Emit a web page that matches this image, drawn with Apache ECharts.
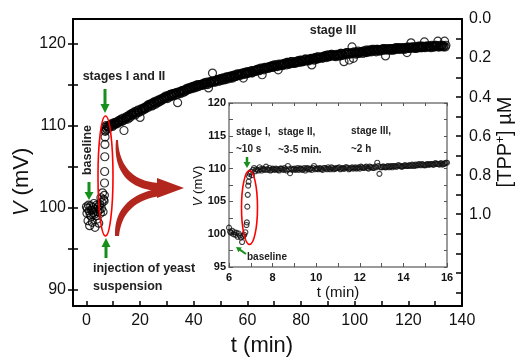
<!DOCTYPE html>
<html><head><meta charset="utf-8">
<script src="https://cdn.jsdelivr.net/npm/echarts@6/dist/echarts.min.js"></script>
<style>html,body{margin:0;padding:0;background:#fff}#c{width:521px;height:363px}</style>
</head><body><div id="c"></div>
<script>
// ---------- DATA ----------
// main panel: baseline before injection (t in min, V in mV)
const mainBaseT = [0.0,0.2,0.4,0.6,0.8,1.0,1.2,1.4,1.6,1.8,2.0,2.2,2.4,2.6,2.8,3.0,3.2,3.4,3.6,3.8,4.0,4.2,4.4,4.6,4.8,5.0,5.2,5.4,5.6,5.8,6.0,6.2,6.4];
const mainBaseV = [100.1,99.3,99.9,98.4,100.3,99.6,97.8,99.1,100.2,98.9,99.7,98.2,100.0,99.4,100.5,99.2,97.6,99.8,99.0,100.3,98.6,99.5,100.1,98.1,99.7,100.4,99.3,101.2,99.9,100.6,101.8,99.5,101.0];
// main panel: jump after injection
const mainJumpT = [6.6,6.7,6.75,6.8,6.85,6.9,6.95,7.0,7.1,7.2,7.3];
const mainJumpV = [100.8,101.5,103.0,104.4,106.2,107.7,108.6,109.3,109.8,109.4,110.0];
// main panel: slow rise, two interleaved runs sampled every 0.5 min (from 7.5 and 7.75 min)
const mainBandT0 = 7.5, mainBandT0b = 7.75, mainBandDt = 0.5;
const mainBandV = [
109.6,109.9,109.8,110.1,110.0,110.3,110.2,110.4,110.3,110.6,
110.5,110.8,110.6,109.4,110.9,111.1,110.8,111.3,111.2,111.5,
111.4,111.7,111.5,111.8,111.6,111.0,112.0,111.9,112.2,112.1,
112.4,112.2,112.5,112.6,112.4,112.8,112.7,113.0,112.8,113.1,
113.0,113.3,113.2,113.4,113.6,113.4,113.7,113.5,113.8,113.6,
113.9,113.7,114.0,112.8,114.1,113.9,114.2,114.3,114.1,114.4,
114.3,114.6,114.5,114.7,114.6,114.8,114.7,114.9,115.0,114.8,
115.0,114.9,115.1,115.2,115.0,115.3,114.6,115.2,115.4,116.4,
115.4,115.3,115.5,115.6,115.4,115.7,115.5,115.8,115.6,115.9,
115.8,115.7,115.9,116.0,115.8,116.1,116.0,116.2,116.1,116.3,
116.2,116.4,115.8,116.5,116.3,116.6,116.4,116.5,116.7,116.5,
116.7,116.6,116.8,116.9,116.7,117.0,116.2,116.9,117.1,117.0,
117.1,117.0,117.2,117.3,117.1,117.4,117.2,117.3,116.8,117.4,
117.4,117.3,117.5,117.6,117.4,117.7,117.5,117.6,117.8,117.6,
117.7,117.6,117.8,117.9,117.7,117.95,117.8,117.9,118.1,117.9,
118.0,117.9,118.1,117.4,118.2,118.0,118.3,118.1,118.2,118.3,
118.3,118.2,118.4,118.5,118.3,118.6,118.4,118.5,118.7,118.5,
118.6,118.4,118.6,118.7,118.5,118.8,118.6,117.8,118.7,118.9,
118.7,118.0,118.8,119.6,118.2,118.9,118.7,119.0,118.8,118.9,
119.0,118.8,119.1,119.0,118.9,119.2,119.0,119.1,119.3,119.1,
119.2,119.0,119.3,119.2,119.1,119.3,119.2,119.4,118.5,119.3,
119.3,119.2,119.4,119.3,119.2,119.4,119.3,119.5,119.4,119.3,
119.4,119.3,119.5,119.4,118.9,119.5,119.4,120.1,119.5,119.6,
119.5,119.4,119.6,119.5,119.7,119.5,119.6,120.2,119.6,119.7,
119.6,119.7,119.5,119.7,119.6,119.8,119.7,120.3,119.6,119.7,
119.7,119.6,120.3,119.8];
const mainBandVb = [
109.9,109.7,110.0,110.2,109.9,110.1,110.4,110.2,110.5,110.4,
110.7,110.5,110.9,110.7,110.8,111.0,111.2,111.0,111.4,111.3,
111.6,111.3,111.6,111.9,111.7,112.0,111.8,112.1,112.0,112.3,
112.3,112.6,112.4,112.7,112.5,112.9,112.6,112.9,113.1,112.9,
113.2,113.1,113.4,113.3,113.5,113.3,113.6,113.8,113.6,113.9,
113.8,114.0,113.8,114.1,114.0,114.2,114.0,114.3,114.2,114.5,
114.5,114.4,114.6,114.5,114.8,114.6,114.9,114.7,114.8,115.0,
114.9,115.1,115.0,115.2,115.1,115.0,115.3,115.2,115.4,115.3,
115.5,115.4,115.6,115.5,115.7,115.6,115.8,115.7,115.6,115.9,
115.9,116.0,115.8,116.1,115.9,116.2,116.0,116.3,116.2,116.1,
116.3,116.2,116.4,116.3,116.5,116.4,116.6,116.5,116.4,116.7,
116.6,116.8,116.7,116.9,116.8,116.9,117.0,116.8,117.0,117.1,
117.0,117.2,117.1,117.3,117.2,117.3,117.4,117.2,117.5,117.3,
117.5,117.4,117.6,117.5,117.7,117.6,117.5,117.8,117.7,117.6,
117.8,117.7,117.9,117.8,118.0,117.9,117.8,118.0,118.1,117.9,
118.1,118.0,118.2,118.1,118.0,118.3,118.2,118.4,118.2,118.3,
118.4,118.3,118.5,118.4,118.6,118.4,118.5,118.7,118.6,118.5,
118.5,118.7,118.6,118.5,118.8,118.7,118.6,118.8,118.7,118.9,
118.8,118.7,118.9,118.8,119.0,118.9,118.8,119.1,118.9,119.0,
119.0,119.1,118.9,119.2,119.0,119.1,119.2,119.0,119.2,119.3,
119.1,119.3,119.2,119.1,119.3,119.2,119.4,119.3,119.2,119.4,
119.3,119.4,119.2,119.4,119.3,119.5,119.4,119.3,119.5,119.4,
119.5,119.4,119.3,119.5,119.6,119.4,119.5,119.6,119.5,119.4,
119.6,119.5,119.7,119.6,119.5,119.7,119.6,119.5,119.7,119.6,
119.7,119.6,119.8,119.7,119.6,119.8,119.7,119.6,119.8,119.7,
119.8,119.7,119.6];
// inset: baseline + jump
const insetBaseT = [6.0,6.05,6.1,6.15,6.2,6.25,6.3,6.35,6.4,6.45,6.5,6.55,6.6,6.65,6.7,6.75,6.8,6.82,6.84,6.86,6.88,6.9,6.92,6.95,7.0,7.05,7.1,7.15];
const insetBaseV = [101.0,100.4,100.2,100.5,100.0,100.3,99.9,100.2,99.6,100.1,99.8,99.5,98.8,99.7,99.9,100.3,101.4,101.8,104.2,106.0,107.4,108.0,108.8,109.2,109.5,109.0,109.8,110.1];
// inset: plateau (two interleaved runs, each sampled every 0.1 min)
const insetBandT0 = 7.2, insetBandT0b = 7.25, insetBandDt = 0.1;
const insetBandV = [
109.6,109.8,110.2,109.7,109.9,110.3,109.8,109.7,110.0,109.8,
109.9,109.7,110.0,109.8,109.9,110.4,109.3,109.8,110.0,109.9,
109.8,110.0,109.9,109.7,110.1,109.9,109.8,110.4,110.0,109.9,
110.0,109.8,110.1,109.9,110.0,110.2,109.9,110.0,110.1,109.9,
110.1,110.0,110.2,109.9,110.1,110.0,110.2,110.1,110.0,110.2,
110.1,110.3,110.0,110.2,110.1,110.3,110.9,109.2,110.2,110.3,
110.2,110.4,110.3,110.2,110.4,110.3,110.5,110.3,110.4,110.5,
110.4,110.5,110.6,110.4,110.5,110.7,110.5,110.6,110.5,110.7,
110.6,110.7,110.6,110.8,110.7,110.8,110.6,110.8,110.9];
const insetBandVb = [
109.9,109.7,109.9,110.0,109.8,109.9,110.1,109.8,109.9,110.0,
109.8,110.0,109.9,110.1,109.7,109.9,110.0,109.9,109.8,110.1,
110.0,109.8,110.1,110.0,109.9,110.0,110.1,109.9,110.0,110.1,
109.9,110.1,110.0,110.2,109.9,110.1,110.0,110.1,110.2,110.0,
110.0,110.2,110.1,110.0,110.2,110.1,110.0,110.2,110.3,110.1,
110.2,110.1,110.3,110.2,110.1,110.2,110.4,110.2,110.3,110.2,
110.3,110.2,110.4,110.4,110.3,110.5,110.4,110.3,110.5,110.4,
110.5,110.4,110.5,110.6,110.5,110.6,110.7,110.5,110.6,110.6,
110.7,110.6,110.8,110.7,110.6,110.8,110.7,110.9];
// tick values / labels
const mainXTicks = [0,10,20,30,40,50,60,70,80,90,100,110,120,130,140];
const mainXLabels = [0,20,40,60,80,100,120,140];
const mainYTicks = [90,95,100,105,110,115,120];
const mainYLabels = [90,100,110,120];
const tppTicks = [0,0.1,0.2,0.3,0.4,0.5,0.6,0.7,0.8,0.9,1.0,1.1,1.2,1.3,1.4];
const tppLabels = [0,0.2,0.4,0.6,0.8,1.0];
const insetXTicks = [6,7,8,9,10,11,12,13,14,15,16];
const insetXLabels = [6,8,10,12,14,16];
const insetYTicks = [95,97.5,100,102.5,105,107.5,110,112.5,115,117.5,120];
const insetYLabels = [95,100,105,110,115,120];

// ---------- BUILD ----------
const pairs = (ts, vs) => vs.map((v, i) => [ts[i], v]);
const sampled = (t0, dt, vs) => vs.map((v, i) => [+(t0 + i * dt).toFixed(3), v]);
const mainData = pairs(mainBaseT, mainBaseV).concat(pairs(mainJumpT, mainJumpV),
  sampled(mainBandT0, mainBandDt, mainBandV), sampled(mainBandT0b, mainBandDt, mainBandVb));
const insetData = pairs(insetBaseT, insetBaseV).concat(sampled(insetBandT0, insetBandDt, insetBandV), sampled(insetBandT0b, insetBandDt, insetBandVb));

const FF = 'Liberation Sans, Arial, sans-serif';
const green = '#17901b';
const darkRed = '#b3261e';

function arrowPts(x1, y1, x2, y2, sw, hw, hl) {
  const dx = x2 - x1, dy = y2 - y1, L = Math.hypot(dx, dy);
  const ux = dx / L, uy = dy / L, px = -uy, py = ux;
  const bx = x2 - ux * hl, by = y2 - uy * hl;
  return [
    [x1 + px * sw / 2, y1 + py * sw / 2], [bx + px * sw / 2, by + py * sw / 2],
    [bx + px * hw / 2, by + py * hw / 2], [x2, y2],
    [bx - px * hw / 2, by - py * hw / 2], [bx - px * sw / 2, by - py * sw / 2],
    [x1 - px * sw / 2, y1 - py * sw / 2]
  ];
}
function bez(p0, p1, p2, p3, n) {
  const out = [];
  for (let i = 0; i <= n; i++) {
    const t = i / n, a = (1 - t) ** 3, b = 3 * (1 - t) ** 2 * t, c = 3 * (1 - t) * t * t, d = t ** 3;
    out.push([a * p0[0] + b * p1[0] + c * p2[0] + d * p3[0], a * p0[1] + b * p1[1] + c * p2[1] + d * p3[1]]);
  }
  return out;
}
const upperRibbon = bez([118,140],[119,166],[133,182],[160,183],20).concat(bez([160,191],[127,190],[113,170],[116,140],20));
const lowerRibbon = bez([115,236],[114,211],[128,194],[160,188],20).concat(bez([160,196],[133,200],[121,215],[119,236],20));

function txt(x, y, text, size, opts) {
  opts = opts || {};
  return {
    type: 'text', x: x, y: y, rotation: opts.rot || 0, z: 100,
    style: Object.assign({
      text: text, fill: opts.color || '#222',
      font: (opts.bold ? 'bold ' : '') + size + 'px ' + FF,
      textAlign: opts.align || 'center', textVerticalAlign: 'middle'
    }, opts.rich ? { rich: opts.rich } : {})
  };
}

const axisBlack = { onZero: false, lineStyle: { color: '#000', width: 2 } };
const insetLine = { onZero: false, lineStyle: { color: '#7a7a7a', width: 1.5 } };
const lblMain = { color: '#111', fontSize: 16, fontFamily: FF };
const lblInset = { color: '#111', fontSize: 11, fontWeight: 'bold', fontFamily: FF };

const option = {
  animation: false,
  backgroundColor: '#fff',
  grid: [
    { left: 73, top: 19, right: 59, bottom: 57 },
    { left: 229, top: 103, right: 74, bottom: 96, show: true, backgroundColor: '#fff', borderWidth: 0 }
  ],
  xAxis: [
    { gridIndex: 0, type: 'value', min: -5, max: 140, position: 'bottom',
      axisLine: axisBlack, splitLine: { show: false },
      axisTick: { inside: true, length: 5, customValues: mainXTicks, lineStyle: { color: '#000', width: 1.5 } },
      axisLabel: Object.assign({ margin: 7, customValues: mainXLabels }, lblMain) },
    { gridIndex: 0, type: 'value', min: -5, max: 140, position: 'top',
      axisLine: axisBlack, splitLine: { show: false }, axisTick: { show: false }, axisLabel: { show: false } },
    { gridIndex: 1, type: 'value', min: 6, max: 16, position: 'bottom',
      axisLine: insetLine, splitLine: { show: false },
      axisTick: { inside: true, length: 4, customValues: insetXTicks, lineStyle: { color: '#555', width: 1 } },
      axisLabel: Object.assign({ margin: 5, customValues: insetXLabels }, lblInset) },
    { gridIndex: 1, type: 'value', min: 6, max: 16, position: 'top',
      axisLine: insetLine, splitLine: { show: false },
      axisTick: { inside: true, length: 3, customValues: insetXTicks, lineStyle: { color: '#555', width: 1 } },
      axisLabel: { show: false } }
  ],
  yAxis: [
    { gridIndex: 0, type: 'value', min: 88, max: 123, position: 'left',
      axisLine: axisBlack, splitLine: { show: false },
      axisTick: { inside: false, length: 5, customValues: mainYTicks, lineStyle: { color: '#000', width: 1.5 } },
      axisLabel: Object.assign({ margin: 7, customValues: mainYLabels }, lblMain) },
    { gridIndex: 0, type: 'value', min: 88, max: 123, position: 'left',
      axisLine: { show: false, onZero: false }, splitLine: { show: false },
      axisTick: { inside: true, length: 5, customValues: mainYTicks, lineStyle: { color: '#000', width: 1.5 } },
      axisLabel: { show: false } },
    { gridIndex: 0, type: 'value', min: 0, max: 1.47, inverse: true, position: 'right',
      axisLine: axisBlack, splitLine: { show: false },
      axisTick: { inside: true, length: 6, customValues: tppTicks, lineStyle: { color: '#000', width: 1.5 } },
      axisLabel: Object.assign({ margin: 7, customValues: tppLabels, formatter: v => v.toFixed(1) }, lblMain) },
    { gridIndex: 1, type: 'value', min: 95, max: 120, position: 'left',
      axisLine: insetLine, splitLine: { show: false },
      axisTick: { inside: true, length: 4, customValues: insetYTicks, lineStyle: { color: '#555', width: 1 } },
      axisLabel: Object.assign({ margin: 3, customValues: insetYLabels }, lblInset) },
    { gridIndex: 1, type: 'value', min: 95, max: 120, position: 'right',
      axisLine: insetLine, splitLine: { show: false },
      axisTick: { inside: true, length: 3, customValues: insetYTicks, lineStyle: { color: '#555', width: 1 } },
      axisLabel: { show: false } }
  ],
  series: [
    { type: 'scatter', xAxisIndex: 0, yAxisIndex: 0, data: mainData, symbol: 'circle', symbolSize: 8,
      itemStyle: { color: 'rgba(0,0,0,0)', borderColor: '#000', borderWidth: 1.2 }, silent: true, clip: true },
    { type: 'scatter', xAxisIndex: 2, yAxisIndex: 3, data: insetData, symbol: 'circle', symbolSize: 5,
      itemStyle: { color: 'rgba(0,0,0,0)', borderColor: '#111', borderWidth: 1.1 }, silent: true, clip: true, z: 3 }
  ],
  graphic: [
    // axis titles
    txt(22, 182, '{i|V} (mV)', 22, { rot: Math.PI / 2, color: '#111',
      rich: { i: { fontStyle: 'italic', fontSize: 22, fontFamily: FF, fill: '#111' } } }),
    txt(262, 346, 't (min)', 22, { color: '#111' }),
    txt(505, 142, '[TPP{s|+}] \u00b5M', 20, { rot: Math.PI / 2, color: '#111',
      rich: { s: { fontSize: 12, fontFamily: FF, verticalAlign: 'top', fill: '#111' } } }),
    txt(198, 186, '{i|V} (mV)', 13, { rot: Math.PI / 2, color: '#111',
      rich: { i: { fontStyle: 'italic', fontSize: 13, fontFamily: FF, fill: '#111' } } }),
    txt(338, 293, 't (min)', 15, { color: '#111' }),
    // main annotations
    txt(333, 31, 'stage III', 12.5, { bold: true }),
    txt(124, 77, 'stages I and II', 12.5, { bold: true }),
    txt(88, 150, 'baseline', 12.5, { bold: true, rot: Math.PI / 2 }),
    txt(93, 269, 'injection of yeast', 12.5, { bold: true, align: 'left' }),
    txt(93, 287, 'suspension', 12.5, { bold: true, align: 'left' }),
    // inset annotations
    txt(236, 132, 'stage I,', 10, { bold: true, align: 'left' }),
    txt(236, 149, '~10 s', 10, { bold: true, align: 'left' }),
    txt(278, 132, 'stage II,', 10, { bold: true, align: 'left' }),
    txt(278, 150, '~3-5 min.', 10, { bold: true, align: 'left' }),
    txt(351, 131, 'stage III,', 10, { bold: true, align: 'left' }),
    txt(351, 149, '~2 h', 10, { bold: true, align: 'left' }),
    txt(247, 257, 'baseline', 10, { bold: true, align: 'left' }),
    // green arrows
    { type: 'polygon', z: 100, shape: { points: arrowPts(105, 89, 105, 113, 3, 9, 9) }, style: { fill: green } },
    { type: 'polygon', z: 100, shape: { points: arrowPts(89, 182, 89, 200, 3, 9, 8) }, style: { fill: green } },
    { type: 'polygon', z: 100, shape: { points: arrowPts(106, 258, 106, 238, 3, 9, 9) }, style: { fill: green } },
    { type: 'polygon', z: 100, shape: { points: arrowPts(247, 157, 247, 168, 2.5, 7, 6) }, style: { fill: green } },
    { type: 'polygon', z: 100, shape: { points: arrowPts(246, 254, 236, 247, 2, 6, 5) }, style: { fill: green } },
    // red ellipses
    { type: 'ellipse', z: 101, shape: { cx: 105.5, cy: 176, rx: 7.5, ry: 60 }, style: { fill: 'none', stroke: '#ff0000', lineWidth: 1.6 } },
    { type: 'ellipse', z: 101, shape: { cx: 249.5, cy: 207.5, rx: 8, ry: 37 }, style: { fill: 'none', stroke: '#ff0000', lineWidth: 1.6 } },
    // dark red curved arrows
    { type: 'polygon', z: 99, shape: { points: upperRibbon }, style: { fill: darkRed } },
    { type: 'polygon', z: 99, shape: { points: lowerRibbon }, style: { fill: darkRed } },
    { type: 'polygon', z: 99, shape: { points: [[157,178],[184,188],[157,198]] }, style: { fill: darkRed } }
  ]
};
const chart = echarts.init(document.getElementById('c'), null, { renderer: 'canvas' });
chart.setOption(option);
</script></body></html>
